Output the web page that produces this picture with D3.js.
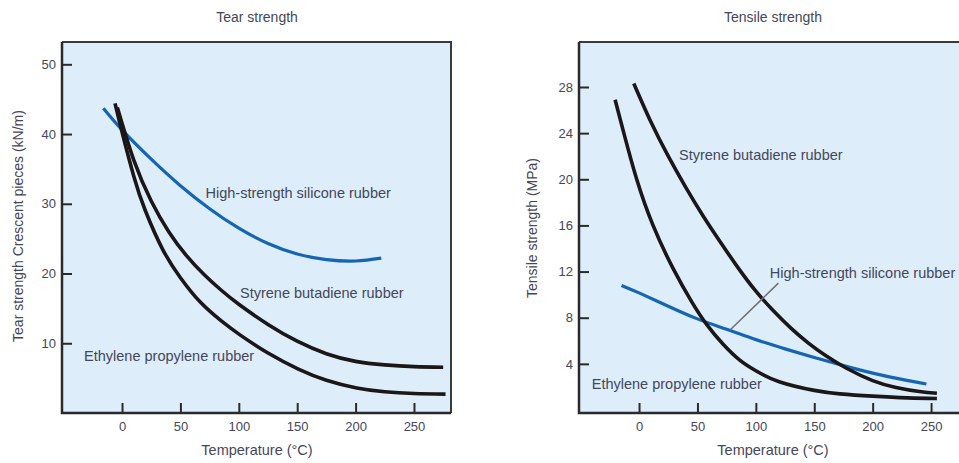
<!DOCTYPE html>
<html>
<head>
<meta charset="utf-8">
<script src="https://cdn.jsdelivr.net/npm/d3@7"></script>
<style>
  body { margin: 0; background: #ffffff; }
  svg text { font-family: "Liberation Sans Narrow", "Arial Narrow", "Liberation Sans", sans-serif; fill: #45465a; }
</style>
</head>
<body>
<div id="chart"></div>
<script>
// tick values shared by both panels
const tempTicks = [0, 50, 100, 150, 200, 250];
const tearTicks = [10, 20, 30, 40, 50];
const tensileTicks = [4, 8, 12, 16, 20, 24, 28];

// tear strength (kN/m)
const tearSiliconeT = [-16, 0, 25, 50, 75, 100, 125, 150, 175, 200, 222];
const tearSiliconeV = [43.7, 40.6, 36.4, 32.6, 29.3, 26.5, 24.3, 22.8, 22.0, 21.8, 22.2];
const tearSbrT = [-4, 10, 25, 40, 55, 70, 85, 100, 125, 150, 175, 200, 225, 250, 275];
const tearSbrV = [43.8, 36.3, 30.4, 26.0, 22.6, 19.9, 17.6, 15.6, 12.7, 10.3, 8.5, 7.4, 6.9, 6.65, 6.55];
const tearEprT = [-6, 0, 10, 20, 35, 50, 67, 85, 101, 125, 151, 175, 201, 225, 250, 277];
const tearEprV = [44.4, 40.3, 34.0, 29.0, 23.4, 19.4, 15.9, 13.2, 11.2, 8.6, 6.3, 4.7, 3.6, 3.05, 2.8, 2.7];

// tensile strength (MPa)
const tensSiliconeT = [-15, 0, 25, 50, 75, 100, 125, 150, 175, 200, 225, 246];
const tensSiliconeV = [10.8, 10.15, 9.0, 7.9, 7.0, 6.1, 5.3, 4.55, 3.85, 3.2, 2.65, 2.25];
const tensSbrT = [-4.5, 10, 25, 40, 55, 70, 85, 100, 115, 130, 145, 160, 178, 200, 220, 240, 255];
const tensSbrV = [28.3, 25.0, 22.0, 19.3, 16.8, 14.5, 12.3, 10.3, 8.6, 7.1, 5.8, 4.7, 3.6, 2.55, 1.95, 1.6, 1.45];
const tensEprT = [-20.5, -13, -2, 12, 29, 45, 58, 72, 86.5, 100, 120, 150, 172, 200, 230, 255];
const tensEprV = [26.9, 24.0, 20.0, 16.0, 12.3, 9.4, 7.4, 5.7, 4.3, 3.4, 2.45, 1.7, 1.4, 1.2, 1.05, 1.0];

const BLUE = "#1565b5";
const BLACK = "#1b1718";

/**
 * zip two arrays of temperatures and values into points
 */
function pts(ts, vs) {
	return ts.map(function(t, i) { return {t: t, v: vs[i]}; });
}

const svg = d3.select("#chart")
	.append("svg")
	.attr("width", 959)
	.attr("height", 463);

/**
 * draws one panel: box, axes, curves. returns the scales so labels can use them.
 */
function drawPanel(cfg) {
	const g = svg.append("g");

	const x = d3.scaleLinear().domain(cfg.xDomain).range([cfg.left, cfg.right]);
	const y = d3.scaleLinear().domain(cfg.yDomain).range([cfg.bottom, cfg.top]);

	// clip so the box can run off the page on the right panel
	const clipId = "clip" + cfg.name;
	svg.append("clipPath").attr("id", clipId)
		.append("rect")
		.attr("x", cfg.left).attr("y", cfg.top)
		.attr("width", cfg.right - cfg.left).attr("height", cfg.bottom - cfg.top);

	// background box
	g.append("rect")
		.attr("x", cfg.left).attr("y", cfg.top)
		.attr("width", cfg.right - cfg.left)
		.attr("height", cfg.bottom - cfg.top)
		.attr("fill", "#ddeefa");

	// top + right border (thin)
	g.append("path")
		.attr("d", `M${cfg.left},${cfg.top}H${cfg.right}V${cfg.bottom}`)
		.attr("fill", "none").attr("stroke", "#3a3a3a").attr("stroke-width", 2);
	// left + bottom border (thick)
	g.append("path")
		.attr("d", `M${cfg.left},${cfg.top}V${cfg.bottom}H${cfg.right}`)
		.attr("fill", "none").attr("stroke", "#2a2a2a").attr("stroke-width", 2.5);

	// X AXIS (ticks point up into the box)
	const xAxis = g.append("g")
		.attr("transform", `translate(0,${cfg.bottom})`)
		.call(d3.axisBottom(x).tickValues(tempTicks).tickSize(-10).tickPadding(9));
	xAxis.select(".domain").remove();
	xAxis.selectAll("line").attr("stroke", "#2a2a2a").attr("stroke-width", 2);
	xAxis.selectAll("text").style("font-size", "13px").attr("fill", "#45465a");

	// Y AXIS (ticks point right into the box)
	const yAxis = g.append("g")
		.attr("transform", `translate(${cfg.left},0)`)
		.call(d3.axisLeft(y).tickValues(cfg.yTicks).tickSize(-10).tickPadding(6));
	yAxis.select(".domain").remove();
	yAxis.selectAll("line").attr("stroke", "#2a2a2a").attr("stroke-width", 2);
	yAxis.selectAll("text").style("font-size", "13px").attr("fill", "#45465a");

	// CURVES
	const line = d3.line()
		.x(function(d) { return x(d.t); })
		.y(function(d) { return y(d.v); })
		.curve(d3.curveNatural);

	cfg.series.forEach(function(s) {
		g.append("path")
			.datum(s.data)
			.attr("clip-path", `url(#${clipId})`)
			.attr("d", line)
			.attr("fill", "none")
			.attr("stroke", s.color)
			.attr("stroke-width", s.color == BLUE ? 3.2 : 3.6)
			.attr("stroke-linecap", "butt");
	});

	// panel title
	svg.append("text")
		.attr("x", cfg.titleX).attr("y", 22)
		.attr("text-anchor", "middle")
		.style("font-size", "14px")
		.text(cfg.title);

	// x axis label
	svg.append("text")
		.attr("x", cfg.titleX).attr("y", 455)
		.attr("text-anchor", "middle")
		.style("font-size", "14.5px")
		.text("Temperature (°C)");

	// y axis label
	svg.append("text")
		.attr("transform", `translate(${cfg.yLabelX},${cfg.yLabelY}) rotate(-90)`)
		.attr("text-anchor", "middle")
		.style("font-size", "14px")
		.text(cfg.yLabel);

	return {x: x, y: y, g: g};
}

const left = drawPanel({
	name: "tear",
	left: 62, right: 451, top: 42, bottom: 413,
	xDomain: [-51.4, 281.7], yDomain: [0, 53.2],
	yTicks: tearTicks,
	title: "Tear strength", titleX: 257,
	yLabel: "Tear strength  Crescent pieces (kN/m)", yLabelX: 23, yLabelY: 226,
	series: [
		{color: BLUE, data: pts(tearSiliconeT, tearSiliconeV)},
		{color: BLACK, data: pts(tearSbrT, tearSbrV)},
		{color: BLACK, data: pts(tearEprT, tearEprV)}
	]
});

const right = drawPanel({
	name: "tensile",
	left: 579, right: 975, top: 42, bottom: 413,
	xDomain: [-51.4, 287.6], yDomain: [-0.26, 31.9],
	yTicks: tensileTicks,
	title: "Tensile strength", titleX: 773,
	yLabel: "Tensile strength (MPa)", yLabelX: 537, yLabelY: 228,
	series: [
		{color: BLUE, data: pts(tensSiliconeT, tensSiliconeV)},
		{color: BLACK, data: pts(tensSbrT, tensSbrV)},
		{color: BLACK, data: pts(tensEprT, tensEprV)}
	]
});

// curve labels, placed in data coords of each panel
function curveLabel(p, t, v, txt) {
	p.g.append("text")
		.attr("x", p.x(t)).attr("y", p.y(v))
		.attr("dy", "0.35em")
		.style("font-size", "14.5px")
		.text(txt);
}

curveLabel(left, 71.5, 31.6, "High-strength silicone rubber");
curveLabel(left, 101, 17.2, "Styrene butadiene rubber");
curveLabel(left, -32.5, 8.2, "Ethylene propylene rubber");

curveLabel(right, 34.2, 22.1, "Styrene butadiene rubber");
curveLabel(right, 112, 11.9, "High-strength silicone rubber");
curveLabel(right, -40.5, 2.3, "Ethylene propylene rubber");

// leader line from the silicone label to its curve
right.g.append("line")
	.attr("x1", right.x(77.9)).attr("y1", right.y(6.93))
	.attr("x2", right.x(119.3)).attr("y2", right.y(11.0))
	.attr("stroke", "#707070")
	.attr("stroke-width", 1.5);
</script>
</body>
</html>
